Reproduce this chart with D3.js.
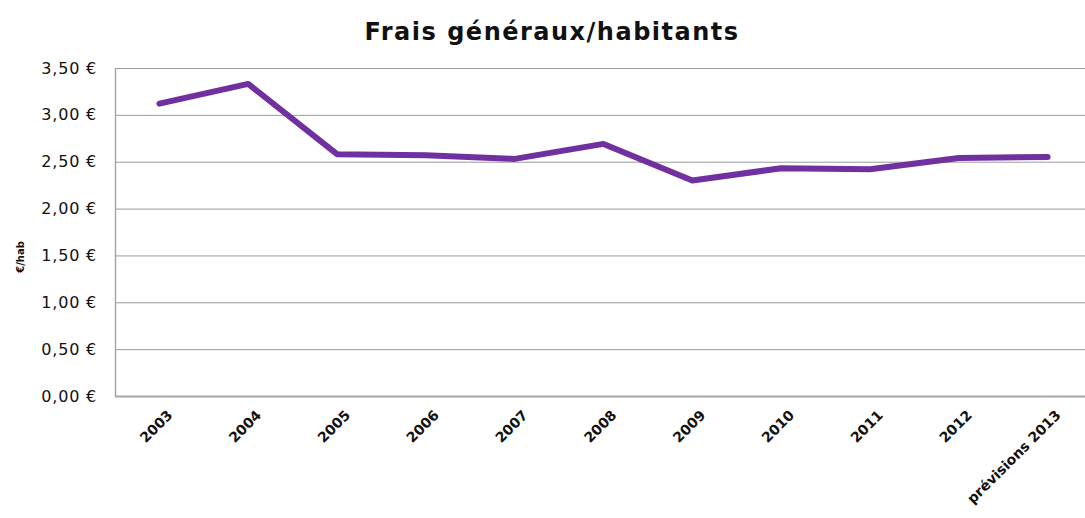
<!DOCTYPE html>
<html>
<head>
<meta charset="utf-8">
<script src="https://cdnjs.cloudflare.com/ajax/libs/d3/7.8.5/d3.min.js"></script>
<style>
    body { margin: 0; background: #fff; }
    svg { display: block; font-family: "DejaVu Sans", Verdana, sans-serif; }
</style>
</head>
<body>
<svg id="chart" width="1085" height="518"></svg>
<script>
const categories = ['2003', '2004', '2005', '2006', '2007', '2008', '2009', '2010', '2011', '2012', 'prévisions 2013'];
const values = [3.12, 3.33, 2.58, 2.57, 2.53, 2.69, 2.30, 2.43, 2.42, 2.54, 2.55];
const yTicks = [0, 0.5, 1, 1.5, 2, 2.5, 3, 3.5];

const svg = d3.select('#chart');
const plotLeft = 115, plotRight = 1092, plotTop = 68, plotBottom = 396;

let x = d3.scaleBand()
    .domain(categories)
    .range([plotLeft, plotRight]);

let y = d3.scaleLinear()
    .domain([0, 3.5])
    .range([plotBottom, plotTop]);

const fmt = v => d3.format('.2f')(v).replace('.', ',') + ' €';

// gridlines
svg.append('g')
    .selectAll('line')
    .data(yTicks)
    .enter().append('line')
    .attr('x1', plotLeft)
    .attr('x2', plotRight)
    .attr('y1', d => y(d) + 0.5)
    .attr('y2', d => y(d) + 0.5)
    .attr('stroke', d => d === 0 ? '#a6a6a6' : '#9a9a9a')
    .attr('stroke-width', d => d === 0 ? 2 : 1);

// left border
svg.append('line')
    .attr('x1', plotLeft + 0.5).attr('x2', plotLeft + 0.5)
    .attr('y1', plotTop).attr('y2', plotBottom + 1)
    .attr('stroke', '#a6a6a6')
    .attr('stroke-width', 1.5);

// y axis
let yAxis = d3.axisLeft(y)
    .tickValues(yTicks)
    .tickSize(0)
    .tickPadding(18)
    .tickFormat(fmt);

let gy = svg.append('g')
    .attr('transform', 'translate(' + plotLeft + ',0)')
    .call(yAxis);
gy.select('.domain').remove();
gy.selectAll('text')
    .attr('font-family', '"DejaVu Sans", Verdana, sans-serif')
    .attr('font-size', 16)
    .attr('font-weight', 500)
    .attr('letter-spacing', 0.8)
    .attr('fill', '#111');

// x axis
let xAxis = d3.axisBottom(x)
    .tickSize(0)
    .tickPadding(0);

let gx = svg.append('g')
    .attr('transform', 'translate(0,' + plotBottom + ')')
    .call(xAxis);
gx.select('.domain').remove();
gx.selectAll('text')
    .attr('font-family', '"DejaVu Sans", Verdana, sans-serif')
    .attr('font-size', 14)
    .attr('font-weight', 'bold')
    .attr('fill', '#111')
    .attr('text-anchor', 'end')
    .attr('dy', 0)
    .attr('y', 0)
    .attr('transform', 'translate(14,20) rotate(-45)');

// line
let line = d3.line()
    .x((d, i) => x(categories[i]) + x.bandwidth() / 2)
    .y(d => y(d));

svg.append('path')
    .datum(values)
    .attr('d', line)
    .attr('fill', 'none')
    .attr('stroke', '#7030a0')
    .attr('stroke-width', 6)
    .attr('stroke-linejoin', 'round')
    .attr('stroke-linecap', 'round');

// title
svg.append('text')
    .attr('x', 552)
    .attr('y', 40)
    .attr('text-anchor', 'middle')
    .attr('font-size', 24)
    .attr('font-weight', 'bold')
    .attr('letter-spacing', 1.5)
    .attr('fill', '#111')
    .text('Frais généraux/habitants');

// y title
svg.append('text')
    .attr('transform', 'translate(24,' + ((plotTop + plotBottom) / 2 + 25) + ') rotate(-90)')
    .attr('text-anchor', 'middle')
    .attr('font-size', 10)
    .attr('font-weight', 'bold')
    .attr('fill', '#111')
    .text('€/hab');
</script>
</body>
</html>
